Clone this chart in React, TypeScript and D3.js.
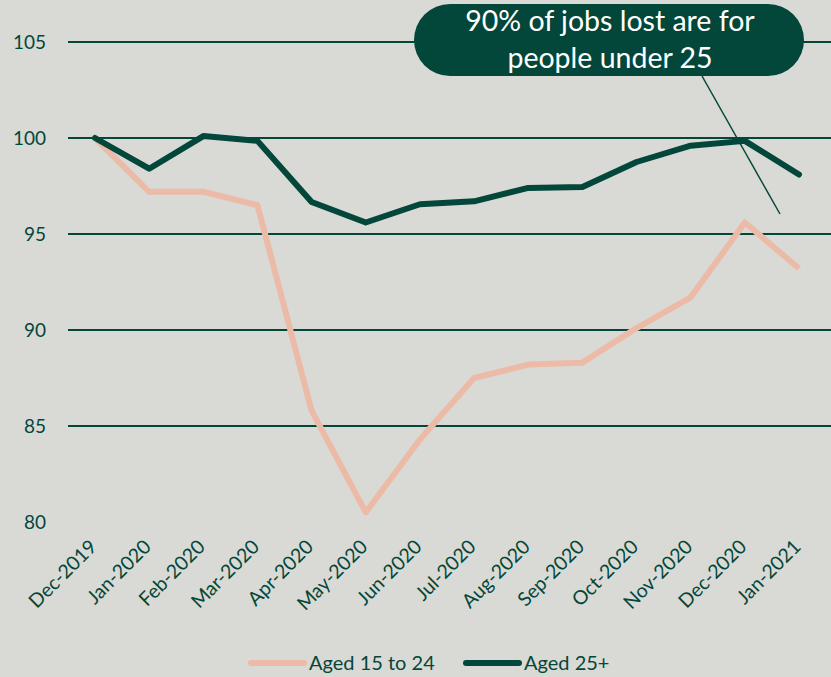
import React from "react";
import * as d3 from "d3";

const months = ["Dec-2019","Jan-2020","Feb-2020","Mar-2020","Apr-2020","May-2020","Jun-2020","Jul-2020","Aug-2020","Sep-2020","Oct-2020","Nov-2020","Dec-2020","Jan-2021"];
const aged15to24 = [100, 97.2, 97.2, 96.5, 85.8, 80.5, 84.3, 87.5, 88.2, 88.3, 90.1, 91.7, 95.6, 93.2];
const aged25plus = [100, 98.4, 100.1, 99.85, 96.67, 95.6, 96.55, 96.7, 97.4, 97.45, 98.75, 99.6, 99.85, 98.1];
const yTicks = [80, 85, 90, 95, 100, 105];
const gridTicks = [85, 90, 95, 100, 105];

const W = 831, H = 677;
const BG = "#d9dad5";
const DARK = "#03473a";
const PINK = "#ecbba8";
const FONT = "Lato, 'Open Sans', sans-serif";

export default function App() {
  const x = d3.scalePoint<string>().domain(months).range([95, 799]);
  const y = d3.scaleLinear().domain([80, 105]).range([522, 42]);
  const line = d3.line<number>().x((_, i) => x(months[i])!).y(d => y(d));

  return (
    <svg width={W} height={H} style={{ position: "absolute", left: 0, top: 0, background: BG }}>
      <rect width={W} height={H} fill={BG} />
      {gridTicks.map(t => (
        <line key={t} x1={68} x2={W} y1={y(t)} y2={y(t)} stroke={DARK} strokeWidth={2} />
      ))}
      {yTicks.map(t => (
        <text key={t} x={46} y={y(t)} dy="0.35em" textAnchor="end" fontFamily={FONT} fontSize={19} fill={DARK}>{t}</text>
      ))}
      {months.map(m => (
        <text key={m} transform={`translate(${x(m)! + 3},${548}) rotate(-45)`} textAnchor="end" fontFamily={FONT} fontSize={19.5} fill={DARK}>{m}</text>
      ))}
      <path d={line(aged15to24)!} fill="none" stroke={PINK} strokeWidth={6} strokeLinejoin="round" />
      <path d={line(aged25plus)!} fill="none" stroke={DARK} strokeWidth={6} strokeLinejoin="round" strokeLinecap="round" />
      <line x1={702} y1={76} x2={780} y2={214} stroke={DARK} strokeWidth={1.5} />
      <rect x={414} y={4} width={390} height={72} rx={36} fill={DARK} />
      <text x={610} y={31} textAnchor="middle" fontFamily={FONT} fontSize={28.5} fill="#ffffff">90% of jobs lost are for</text>
      <text x={610} y={68} textAnchor="middle" fontFamily={FONT} fontSize={28.5} fill="#ffffff">people under 25</text>
      <line x1={251} x2={304} y1={663} y2={663} stroke={PINK} strokeWidth={6} strokeLinecap="round" />
      <text x={309} y={663} dy="0.35em" fontFamily={FONT} fontSize={20} fill={DARK}>Aged 15 to 24</text>
      <line x1={466} x2={519} y1={663} y2={663} stroke={DARK} strokeWidth={6} strokeLinecap="round" />
      <text x={524} y={663} dy="0.35em" fontFamily={FONT} fontSize={20} fill={DARK}>Aged 25+</text>
    </svg>
  );
}
